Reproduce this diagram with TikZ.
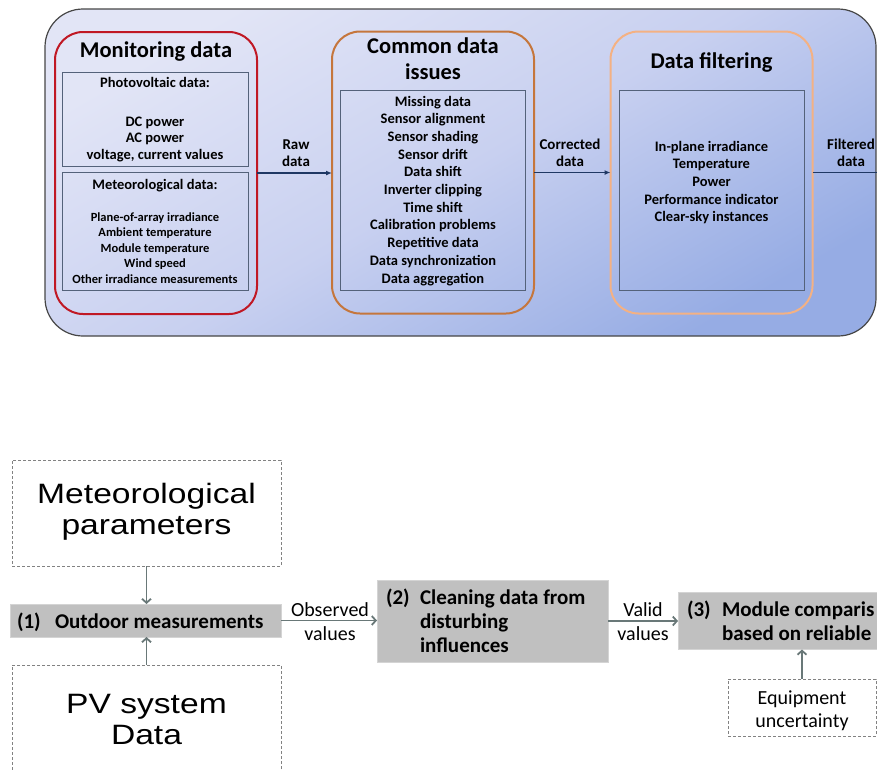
\documentclass[tikz,border=0pt]{standalone}
\usepackage{fontspec}
\usepackage{graphicx}
\setmainfont{Carlito}
\newfontfamily\helv{Liberation Sans}
\usetikzlibrary{arrows.meta}
\definecolor{panelline}{RGB}{70,70,70}
\definecolor{paneltop}{RGB}{226,229,246}
\definecolor{panelmid}{RGB}{200,208,240}
\definecolor{panelbot}{RGB}{150,172,228}
\definecolor{redbox}{RGB}{192,24,36}
\definecolor{orangebox}{RGB}{197,118,60}
\definecolor{peachbox}{RGB}{244,177,131}
\definecolor{innerline}{RGB}{84,98,122}
\definecolor{navy}{RGB}{31,56,100}
\definecolor{grayfill}{RGB}{192,192,192}
\definecolor{grayline}{RGB}{212,212,212}
\definecolor{dashline}{RGB}{130,130,130}
\definecolor{garrowc}{RGB}{105,120,120}
\begin{document}
\begin{tikzpicture}[x=1pt,y=-1pt,
 every node/.style={inner sep=0pt,outer sep=0pt},
 group/.style={draw=#1,line width=2pt,rounded corners=28pt,minimum width=202pt,minimum height=282pt},
 innerbox/.style={draw=innerline,line width=0.9pt},
 titletext/.style={font=\fontsize{22.5}{26}\selectfont\bfseries,align=center,anchor=base},
 itemtext/.style={font=\fontsize{14.5}{17.7}\selectfont\bfseries,align=center,anchor=base},
 flowlbl/.style={font=\fontsize{15}{17}\selectfont\bfseries,align=center,anchor=base},
 navyarrow/.style={draw=navy,line width=1.5pt,-{Latex[length=6pt,width=5pt]}},
 dashbox/.style={draw=dashline,line width=0.9pt,dash pattern=on 3pt off 2pt},
 graybox/.style={fill=grayfill,draw=grayline,line width=1pt},
 bigsans/.style={font=\fontsize{28}{31}\selectfont\helv,align=center,anchor=base},
 stepbold/.style={font=\fontsize{21}{24}\selectfont\bfseries,anchor=base west},
 smalllbl/.style={font=\fontsize{20}{24}\selectfont,align=center,anchor=base},
 grayarrow/.style={draw=garrowc,line width=1.8pt,-{Straight Barb[length=4pt,width=9pt]}}
]
\useasboundingbox (0,0) rectangle (877,769);
\clip (0,0) rectangle (877,769);

% top panel
\node[draw=panelline,line width=1.2pt,rounded corners=38pt,top color=paneltop,bottom color=panelbot,middle color=panelmid,shading angle=30,minimum width=831pt,minimum height=327pt] (panel) at (460.5,172.5) {};

\node[group=redbox] (mon) at (156,173) {};
\node[group=orangebox] (iss) at (433,172.5) {};
\node[group=peachbox] (fil) at (711.5,172.5) {};

\node[innerbox,minimum width=186pt,minimum height=94pt] (pvin) at (155,119) {};
\node[innerbox,minimum width=186pt,minimum height=118pt] (metin) at (155,231) {};
\node[innerbox,minimum width=185pt,minimum height=200pt] (issin) at (433,190) {};
\node[innerbox,minimum width=185pt,minimum height=200pt] (filin) at (711.5,190) {};

% anchor=base of a multi-line node is the baseline of its last line
\node[titletext] (montitle) at (156,57) {Monitoring data};
\node[itemtext] (pvhead) at (155,87) {Photovoltaic data:};
\node[itemtext,font=\fontsize{14.5}{16.7}\selectfont\bfseries] (pvlist) at (155,159.4) {DC power\\AC power\\voltage, current values};
\node[itemtext] (methead) at (155,189) {Meteorological data:};
\node[itemtext,font=\fontsize{12.5}{15.6}\selectfont\bfseries] (metlist) at (155,283.4) {Plane-of-array irradiance\\Ambient temperature\\Module temperature\\Wind speed\\Other irradiance measurements};

\node[titletext] (isstitle) at (433,79) {Common data\\issues};
\node[itemtext] (isslist) at (433,283) {Missing data\\Sensor alignment\\Sensor shading\\Sensor drift\\Data shift\\Inverter clipping\\Time shift\\Calibration problems\\Repetitive data\\Data synchronization\\Data aggregation};

\node[titletext] (filtitle) at (711.5,68) {Data filtering};
\node[itemtext] (fillist) at (711.5,221.8) {In-plane irradiance\\Temperature\\Power\\Performance indicator\\Clear-sky instances};

\draw[navyarrow] (mon.east) -- (mon.east -| iss.west);
\draw[navyarrow] (iss.east) -- (iss.east -| fil.west);
\coordinate (fend) at (880,172.5);
\draw[draw=navy,line width=1.5pt] (fil.east) -- (fend);

\node[flowlbl] (rawlbl) at (296,166) {Raw\\data};
\node[flowlbl] (corlbl) at (570,166) {Corrected\\data};
\node[flowlbl] (fltlbl) at (851,166) {Filtered\\data};

% bottom flow
\node[dashbox,minimum width=269pt,minimum height=106pt] (metbox) at (146.5,513) {};
\node[bigsans] (mettxt) at (146.5,534) {\scalebox{1.2}[1]{Meteorological}\\\scalebox{1.2}[1]{parameters}};

\node[graybox,minimum width=271pt,minimum height=33pt] (outd) at (145.5,620.5) {};
\node[stepbold] (outdnum) at (17,628) {(1)};
\node[stepbold] (outdtxt) at (55,628) {Outdoor measurements};

\node[dashbox,minimum width=269pt,minimum height=130pt] (pvbox) at (146.5,730) {};
\node[bigsans] (pvtxt) at (146.5,744) {\scalebox{1.2}[1]{PV system}\\\scalebox{1.2}[1]{Data}};

\draw[grayarrow] (metbox.south) -- (metbox.south |- outd.north);
\draw[grayarrow] (pvbox.north) -- (pvbox.north |- outd.south);

\node[graybox,minimum width=231pt,minimum height=82pt] (clean) at (492.5,621) {};
\node[stepbold] (cleannum) at (386,604) {(2)};
\node[stepbold,align=left] (cleantxt) at (420,652) {Cleaning data from\\disturbing\\influences};
\draw[grayarrow] (outd.east) -- (outd.east -| clean.west);
\node[smalllbl] (obslbl) at (330,640) {Observed\\values};

\node[graybox,minimum width=300pt,minimum height=57pt] (mod) at (828,621) {};
\node[stepbold] (modnum) at (687,616) {(3)};
\node[stepbold,align=left] (modtxt) at (722,640) {Module comparis\\based on reliable};
\draw[grayarrow] (clean.east) -- (clean.east -| mod.west);
\node[smalllbl] (vallbl) at (643,640) {Valid\\values};

\node[dashbox,minimum width=148pt,minimum height=57pt] (eqbox) at (802,707.5) {};
\node[smalllbl,font=\fontsize{20}{23}\selectfont] (eqtxt) at (802,727) {Equipment\\uncertainty};
\draw[grayarrow] (eqbox.north) -- (eqbox.north |- mod.south);
\end{tikzpicture}
\end{document}
